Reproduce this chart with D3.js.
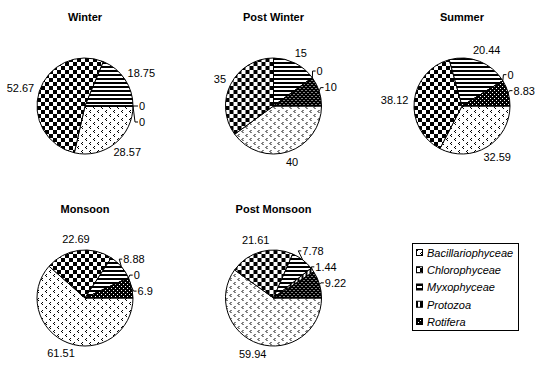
<!DOCTYPE html>
<html><head><meta charset="utf-8">
<script src="https://cdn.jsdelivr.net/npm/d3@7"></script>
<style>
body{margin:0;background:#fff}
text{font-family:Arial,"Liberation Sans",sans-serif;fill:#000}
</style>
</head><body>
<svg id="c" width="551" height="369"></svg>
<script>
// ---- data ----
const categories = ["Bacillariophyceae","Chlorophyceae","Myxophyceae","Protozoa","Rotifera"];
const seasons = ["Winter","Post Winter","Summer","Monsoon","Post Monsoon"];
const winter      = [28.57, 52.67, 18.75, 0,    0];
const postWinter  = [40,    35,    15,    0,    10];
const summer      = [32.59, 38.12, 20.44, 0,    8.83];
const monsoon     = [61.51, 22.69, 8.88,  0,    6.9];
const postMonsoon = [59.94, 21.61, 7.78,  1.44, 9.22];
const seriesValues = [winter, postWinter, summer, monsoon, postMonsoon];

// ---- layout ----
const W = 551, H = 369, R = 48;
const svg = d3.select("#c");
const defs = svg.append("defs");

function pat(id, size, bg, fg, cells){
  const p = defs.append("pattern").attr("id", id).attr("patternUnits","userSpaceOnUse")
    .attr("width", size).attr("height", size);
  p.append("rect").attr("width", size).attr("height", size).attr("fill", bg);
  cells.forEach(c => p.append("rect").attr("x", c[0]).attr("y", c[1])
    .attr("width", c[2] || 1).attr("height", c[3] || 1).attr("fill", fg)
    .attr("shape-rendering","crispEdges"));
}
pat("p0", 8, "#fff", "#000", [[1,0],[0,1],[1,2],[5,4],[4,5],[5,6]]);
pat("p1", 8, "#fff", "#000", [[0,0,4,4],[4,4,4,4]]);
pat("p2", 4, "#fff", "#000", [[0,0,4,2]]);
pat("p3", 4, "#fff", "#000", [[0,0,2,4]]);
pat("p4", 4, "#000", "#fff", [[0,0],[2,2]]);
const fills = categories.map((c,i) => `url(#p${i})`);

const col = d3.scalePoint().domain([0,1,2]).range([85, 462]);
const row = d3.scalePoint().domain([0,1]).range([106, 298]);

const pie = d3.pie().sort(null).value(d => d)
  .startAngle(Math.PI/2).endAngle(Math.PI/2 + 2*Math.PI);
const arc = d3.arc().innerRadius(0).outerRadius(R);

seriesValues.forEach((vals, si) => {
  const cx = col(si % 3), cy = row(Math.floor(si / 3));
  const g = svg.append("g").attr("transform", `translate(${cx},${cy})`);
  g.append("text").attr("x", 0).attr("y", -85).attr("text-anchor","middle")
    .attr("font-size", 11).attr("font-weight","bold").text(seasons[si]);
  const arcs = pie(vals);
  g.selectAll("path.s").data(arcs).join("path").attr("class","s")
    .attr("d", arc).attr("fill", (d,i) => fills[i])
    .attr("stroke","#000").attr("stroke-width",1);

  // labels
  const labs = arcs.map((a, i) => {
    const mid = (a.startAngle + a.endAngle) / 2;
    const dx = Math.sin(mid), dy = -Math.cos(mid);
    const t = g.append("text").attr("font-size", 11).attr("text-anchor","middle")
      .attr("dy","0.35em").text(String(vals[i]));
    const w = t.node().getComputedTextLength();
    const px = (R + 6) * dx, py = (R + 6) * dy;
    return {t, w, dx, dy, v: vals[i], i, x: px + dx * w / 2, y: py + dy * 5.5};
  });
  const right = labs.filter(l => l.dx > 0.05).sort((a,b) => a.y - b.y || a.i - b.i);
  for (let k = 1; k < right.length; k++) {
    if (right[k].y - right[k-1].y < 16) right[k].y = right[k-1].y + 16;
  }
  labs.forEach(l => {
    l.t.attr("x", l.x).attr("y", l.y);
    if (l.v < 12) {
      const ex = R * l.dx, ey = R * l.dy;
      const left = l.x - l.w / 2;
      g.append("path").attr("fill","none").attr("stroke","#000").attr("stroke-width",1)
        .attr("d", `M${ex},${ey}L${left - 4},${l.y}L${left - 1},${l.y}`);
    }
  });
});

// legend
const lg = svg.append("g");
lg.append("rect").attr("x", 412.5).attr("y", 243.5).attr("width", 106).attr("height", 87)
  .attr("fill","#fff").attr("stroke","#000").attr("stroke-width",1);
const ly = d3.scaleLinear().domain([0, 4]).range([253, 322]);
categories.forEach((c, i) => {
  lg.append("rect").attr("x", 416.5).attr("y", ly(i) - 3.5).attr("width", 6).attr("height", 6)
    .attr("fill", fills[i]).attr("stroke","#000").attr("stroke-width",1);
  lg.append("text").attr("x", 427).attr("y", ly(i)).attr("dy","0.35em")
    .attr("font-size", 11).attr("font-style","italic").text(c);
});
</script>
</body></html>
